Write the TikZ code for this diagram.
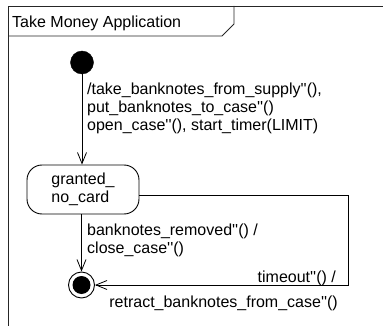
\documentclass[tikz,border=0pt]{standalone}
\usepackage{fontspec}
\setmainfont{Liberation Sans}[Ligatures=TeXOff]
\usetikzlibrary{positioning,arrows.meta}

\begin{document}
\begin{tikzpicture}[
    x=1pt, y=-1pt,
    every node/.style={font=\fontsize{16}{18}\selectfont},
    frame/.style={draw=black!85, line width=0.9pt},
    initial/.style={circle, fill=black, draw=black, minimum size=23pt, inner sep=0pt},
    finalring/.style={circle, draw=black, line width=0.9pt, fill=white, minimum size=26pt, inner sep=0pt},
    finaldot/.style={circle, fill=black, minimum size=18pt, inner sep=0pt},
    state/.style={rectangle, rounded corners=15pt, draw=black, line width=0.9pt, minimum width=112pt, minimum height=49pt, align=left, inner sep=0pt},
    trans/.style={inner sep=0pt, align=left},
    arrow/.style={draw=black, line width=0.8pt, -{Straight Barb[length=11pt, width=9pt, line width=0.8pt]}}
]
\useasboundingbox (0,0) rectangle (383,326);
% frame with name tab
\draw[frame] (8,330) -- (8,6) -- (383,6);
\draw[frame] (8,36) -- (222,36) -- (234,24) -- (234,6);
\node[inner sep=0pt, anchor=base west] (title) at (12,28) {Take Money Application};
% states
\node[initial] (start) at (82,62.5) {};
\node[state] (granted) at (83,189.5) {granted\_\\no\_card};
\node[finalring] (final) at (81.5,285) {};
\node[finaldot] (finaldot) at (final.center) {};
\coordinate (turn) at (348,195);
% transitions
\draw[arrow] (start.south) -- (start.south |- granted.north);
\draw[arrow] (final.north |- granted.south) -- (final.north);
\draw[arrow] (granted.east |- turn) -- (turn) |- (final.east);
% labels (base = last line)
\node[trans, anchor=base west] (entry) at (87,131)
    {/take\_banknotes\_from\_supply''(),\\put\_banknotes\_to\_case''()\\open\_case''(), start\_timer(LIMIT)};
\node[trans, anchor=base west] (removed) at (87,253)
    {banknotes\_removed''() /\\close\_case''()};
\node[trans, anchor=base east] (timeout) at (336,282) {timeout''() /};
\node[trans, anchor=base east] (retract) at (338,307) {retract\_banknotes\_from\_case''()};
\end{tikzpicture}
\end{document}
